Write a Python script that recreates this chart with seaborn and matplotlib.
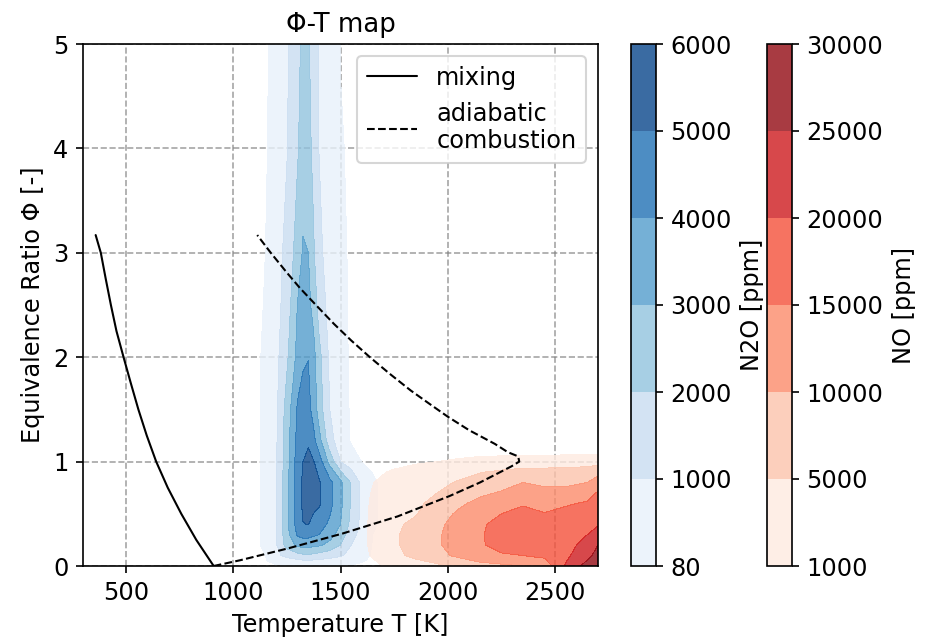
import numpy as np
import seaborn as sns
import matplotlib
matplotlib.use("Agg")
from matplotlib import pyplot as plt

# mixing line
mix_T = [359, 383, 406, 430, 456, 489, 523, 558, 597, 641, 695, 758, 828, 909]
mix_phi = [3.17, 3.0, 2.75, 2.5, 2.25, 2.0, 1.75, 1.5, 1.25, 1.0, 0.75, 0.5, 0.25, 0.0]

# adiabatic combustion line: lean branch up to the tip, then rich branch
adi_T = [909, 1032, 1101, 1258, 1508, 1766, 2008, 2150, 2297, 2333,
         2328, 2280, 2219, 2100, 2000, 1910, 1828, 1730, 1637, 1550,
         1469, 1390, 1312, 1250, 1175, 1112]
adi_phi = [0.0, 0.055, 0.09, 0.17, 0.31, 0.475, 0.67, 0.80, 0.955, 1.0,
           1.05, 1.09, 1.17, 1.30, 1.43, 1.56, 1.68, 1.84, 2.0, 2.16,
           2.32, 2.49, 2.66, 2.81, 3.0, 3.17]

# N2O field [ppm] on a coarse T-phi grid
n2o_T = [1100, 1150, 1200, 1250, 1300, 1325, 1350, 1375, 1400, 1450, 1500, 1550, 1600, 1650, 1700]
n2o_phi = [0, 0.05, 0.1, 0.2, 0.3, 0.4, 0.6, 0.8, 1.0, 1.2, 1.5, 2.0, 2.5, 3.0, 4.0, 5.0]
n2o_ppm = [
    [0, 0, 0, 0, 0, 0, 0, 0, 0, 0, 0, 0, 0, 0, 0],
    [0, 30, 350, 600, 780, 870, 900, 860, 800, 680, 550, 380, 120, 0, 0],
    [0, 80, 790, 1250, 1610, 1790, 1850, 1725, 1600, 1350, 1100, 750, 330, 0, 0],
    [0, 153, 880, 2400, 3200, 3340, 3340, 3230, 3130, 2710, 2000, 1000, 520, 40, 0],
    [0, 157, 920, 2650, 4150, 4330, 4310, 4150, 4000, 3380, 2560, 1380, 620, 80, 0],
    [0, 157, 920, 2750, 4460, 4980, 5020, 4650, 4400, 3830, 3000, 1710, 710, 137, 0],
    [0, 157, 920, 2670, 4620, 5140, 5470, 5320, 5150, 4300, 3240, 1900, 740, 140, 0],
    [0, 157, 920, 2670, 4610, 5130, 5460, 5290, 5110, 4300, 3240, 1900, 740, 140, 0],
    [0, 153, 880, 2590, 4490, 5000, 5260, 5040, 4500, 2670, 1000, 490, 60, 0, 0],
    [0, 150, 860, 2560, 4300, 4710, 4870, 4250, 3400, 1330, 510, 0, 0, 0, 0],
    [0, 146, 800, 2400, 4150, 4525, 4280, 3650, 2500, 1000, 390, 0, 0, 0, 0],
    [0, 140, 710, 1830, 3300, 3800, 3980, 3300, 2330, 800, 280, 0, 0, 0, 0],
    [0, 100, 630, 1455, 3040, 3400, 3240, 2680, 1560, 660, 233, 0, 0, 0, 0],
    [0, 80, 590, 1280, 2450, 3100, 3000, 2110, 1200, 620, 200, 0, 0, 0, 0],
    [0, 0, 405, 946, 1900, 2470, 2350, 1700, 983, 553, 123, 0, 0, 0, 0],
    [0, 0, 278, 860, 1730, 2240, 2130, 1490, 940, 490, 60, 0, 0, 0, 0],
]

# NO field [ppm]
no_T = [1550, 1650, 1750, 1850, 1950, 2050, 2150, 2250, 2350, 2450, 2550, 2650, 2700]
no_phi = [0, 0.1, 0.2, 0.3, 0.4, 0.5, 0.6, 0.7, 0.8, 0.9, 1.0, 1.1]
no_ppm = [
    [0, 600, 1500, 3000, 4000, 6000, 8000, 9000, 10000, 12000, 20500, 27000, 29000],
    [0, 1150, 4000, 6000, 8500, 11000, 13500, 14500, 15000, 16000, 19000, 23500, 27000],
    [0, 1300, 4500, 6500, 9300, 12500, 14500, 16500, 17500, 17500, 18500, 21500, 25000],
    [0, 1300, 4500, 6500, 9300, 12500, 14500, 17000, 18000, 18000, 18000, 20000, 22500],
    [0, 1300, 4200, 6000, 8800, 12000, 14300, 16500, 17500, 17800, 17500, 18500, 19500],
    [0, 1250, 3800, 4700, 7700, 10800, 13000, 15000, 16500, 15200, 16200, 17000, 18000],
    [0, 1200, 3300, 4000, 6500, 9000, 11500, 12500, 14500, 13500, 14500, 15500, 16500],
    [0, 1100, 2700, 3300, 5000, 7200, 9000, 10500, 12000, 11500, 11500, 13000, 15500],
    [0, 950, 2000, 2500, 3800, 5400, 6800, 8000, 10000, 9000, 9000, 10000, 12500],
    [0, 650, 1200, 1600, 2400, 3500, 4800, 5600, 6500, 6500, 6800, 7000, 8500],
    [0, 200, 500, 800, 1000, 1400, 2000, 2200, 2500, 2500, 2800, 3000, 3200],
    [0, 0, 0, 0, 0, 0, 0, 0, 0, 0, 0, 0, 0],
]

n2o_levels = [80, 1000, 2000, 3000, 4000, 5000, 6000]
no_levels = [1000, 5000, 10000, 15000, 20000, 25000, 30000]

sns.set_style("ticks", {"axes.edgecolor": "black", "xtick.color": "black",
                        "ytick.color": "black", "axes.labelcolor": "black",
                        "text.color": "black"})
plt.rcParams["font.family"] = ["DejaVu Sans"]
fs = 11.5

fig = plt.figure(figsize=(928 / 150, 638 / 150), dpi=150)
ax = fig.add_axes([83 / 928, 1 - 566 / 638, (598 - 83) / 928, (566 - 44) / 638])
cax1 = fig.add_axes([631 / 928, 1 - 566 / 638, 25 / 928, (566 - 44) / 638])
cax2 = fig.add_axes([767 / 928, 1 - 566 / 638, 25 / 928, (566 - 44) / 638])

cs1 = ax.contourf(n2o_T, n2o_phi, np.array(n2o_ppm), levels=n2o_levels,
                  cmap="Blues", alpha=0.8)
cs2 = ax.contourf(no_T, no_phi, np.array(no_ppm), levels=no_levels,
                  cmap="Reds", alpha=0.8)

sns.lineplot(x=mix_T, y=mix_phi, ax=ax, color="black", lw=1,
             sort=False, estimator=None, label="mixing")
sns.lineplot(x=adi_T, y=adi_phi, ax=ax, color="black", lw=1, linestyle="--",
             sort=False, estimator=None, label="adiabatic\ncombustion")

ax.set_xlim(300, 2700)
ax.set_ylim(0, 5)
ax.set_xticks([500, 1000, 1500, 2000, 2500])
ax.set_yticks([0, 1, 2, 3, 4, 5])
ax.grid(True, linestyle="--", color="gray", alpha=0.7, lw=0.8)
ax.set_xlabel("Temperature T [K]", fontsize=fs)
ax.set_ylabel("Equivalence Ratio Φ [-]", fontsize=fs)
ax.set_title("Φ-T map", fontsize=12.5)
ax.tick_params(labelsize=fs)
ax.legend(loc="upper right", fontsize=fs, handlelength=2.1)

cb1 = fig.colorbar(cs1, cax=cax1)
cb1.set_ticks(n2o_levels)
cb1.set_label("N2O [ppm]", fontsize=fs)
cb1.ax.tick_params(labelsize=fs)
cb2 = fig.colorbar(cs2, cax=cax2)
cb2.set_ticks(no_levels)
cb2.set_label("NO [ppm]", fontsize=fs)
cb2.ax.tick_params(labelsize=fs)

fig.savefig("out.png", dpi=150)
